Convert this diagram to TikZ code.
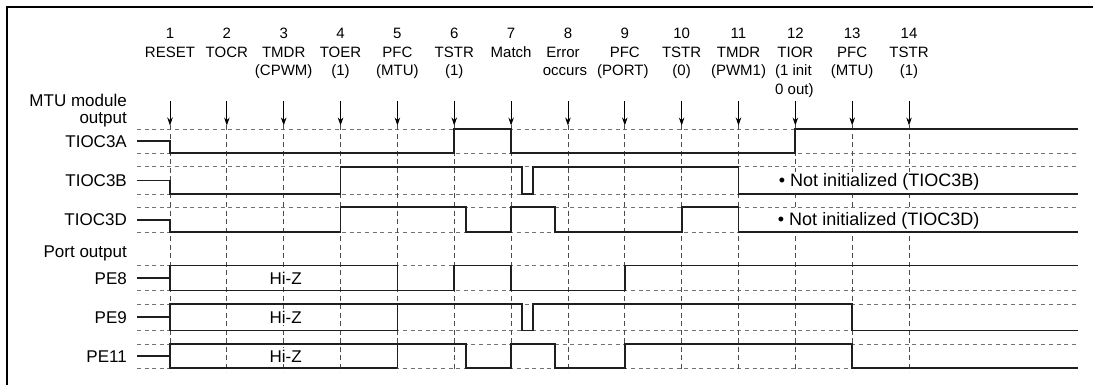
\documentclass[tikz,border=0pt]{standalone}
\usepackage{fontspec}
\setmainfont{Liberation Sans}
\usetikzlibrary{arrows.meta}
\newcommand\evx[1]{(170+56.85*(#1-1))}
\begin{document}
\begin{tikzpicture}[x=1pt,y=-1pt,
  wave/.style={line width=1.8pt, black!88, line join=miter, line cap=butt},
  guide/.style={line width=0.8pt, black!55, dash pattern=on 4pt off 3.6pt},
  vguide/.style={line width=0.8pt, black!70, dash pattern=on 5pt off 3.5pt},
  evarrow/.style={line width=0.8pt, -{Stealth[length=8pt,width=5.5pt]}},
  hdr/.style={font=\fontsize{15}{18}\selectfont, anchor=base, inner sep=0pt},
  lbl/.style={font=\fontsize{17}{20}\selectfont, anchor=base east, inner sep=0pt},
  hiz/.style={font=\fontsize{17}{20}\selectfont, anchor=base, inner sep=1.5pt, fill=white},
  note/.style={font=\fontsize{18}{20}\selectfont, anchor=base east, inner sep=1.5pt, fill=white},
  frame/.style={line width=2pt, black}
]
\useasboundingbox (0,0) rectangle (1093,385);
\fill[white] (0,0) rectangle (1093,385);
\draw[frame] (6.5,385) -- (6.5,7.3) -- (1093,7.3);

% event coordinates
\foreach \i in {1,...,14} {
  \coordinate (e\i) at ({\evx{\i}},101);
  \coordinate (t\i) at ({\evx{\i}},125.5);
  \coordinate (b\i) at ({\evx{\i}},372);
}

% horizontal guides
\foreach \yy in {129.3,153.2,166.8,194.2,207.2,232,265.5,290.5,304,330.5,344,368.2} {
  \draw[guide] (137,\yy) -- (1078,\yy);
}
% vertical guides and arrows
\foreach \i in {1,...,14} {
  \draw[vguide] (t\i) -- (b\i);
  \draw[evarrow] (e\i) -- (t\i);
}

% header texts
\node[hdr] (n1) at ({\evx{1}},38.7) {1};
\node[hdr] (c1a) at ({\evx{1}},57.2) {RESET};
\node[hdr] (n2) at ({\evx{2}},38.7) {2};
\node[hdr] (c2a) at ({\evx{2}},57.2) {TOCR};
\node[hdr] (n3) at ({\evx{3}},38.7) {3};
\node[hdr] (c3a) at ({\evx{3}},57.2) {TMDR};
\node[hdr] (c3b) at ({\evx{3}},75.8) {(CPWM)};
\node[hdr] (n4) at ({\evx{4}},38.7) {4};
\node[hdr] (c4a) at ({\evx{4}},57.2) {TOER};
\node[hdr] (c4b) at ({\evx{4}},75.8) {(1)};
\node[hdr] (n5) at ({\evx{5}},38.7) {5};
\node[hdr] (c5a) at ({\evx{5}},57.2) {PFC};
\node[hdr] (c5b) at ({\evx{5}},75.8) {(MTU)};
\node[hdr] (n6) at ({\evx{6}},38.7) {6};
\node[hdr] (c6a) at ({\evx{6}},57.2) {TSTR};
\node[hdr] (c6b) at ({\evx{6}},75.8) {(1)};
\node[hdr] (n7) at ({\evx{7}},38.7) {7};
\node[hdr] (c7a) at ({\evx{7}},57.2) {Match};
\node[hdr] (n8) at ({\evx{8}},38.7) {8};
\node[hdr] (c8a) at ({\evx{8}-5},57.2) {Error};
\node[hdr] (c8b) at ({\evx{8}-3},75.8) {occurs};
\node[hdr] (n9) at ({\evx{9}},38.7) {9};
\node[hdr] (c9a) at ({\evx{9}},57.2) {PFC};
\node[hdr] (c9b) at ({\evx{9}-2},75.8) {(PORT)};
\node[hdr] (n10) at ({\evx{10}},38.7) {10};
\node[hdr] (c10a) at ({\evx{10}},57.2) {TSTR};
\node[hdr] (c10b) at ({\evx{10}},75.8) {(0)};
\node[hdr] (n11) at ({\evx{11}},38.7) {11};
\node[hdr] (c11a) at ({\evx{11}},57.2) {TMDR};
\node[hdr] (c11b) at ({\evx{11}},75.8) {(PWM1)};
\node[hdr] (n12) at ({\evx{12}},38.7) {12};
\node[hdr] (c12a) at ({\evx{12}},57.2) {TIOR};
\node[hdr] (c12b) at ({\evx{12}-2},75.8) {(1 init};
\node[hdr] (c12c) at ({\evx{12}-1},94.2) {0 out)};
\node[hdr] (n13) at ({\evx{13}},38.7) {13};
\node[hdr] (c13a) at ({\evx{13}},57.2) {PFC};
\node[hdr] (c13b) at ({\evx{13}},75.8) {(MTU)};
\node[hdr] (n14) at ({\evx{14}},38.7) {14};
\node[hdr] (c14a) at ({\evx{14}},57.2) {TSTR};
\node[hdr] (c14b) at ({\evx{14}},75.8) {(1)};

% left labels
\node[lbl] (mtu1) at (127,106.5) {MTU module};
\node[lbl] (mtu2) at (127,123.5) {output};
\node[lbl] (l3a) at (127,147.4) {TIOC3A};
\node[lbl] (l3b) at (127,186.6) {TIOC3B};
\node[lbl] (l3d) at (127,225.7) {TIOC3D};
\node[lbl] (port) at (127,257.7) {Port output};
\node[lbl] (l8) at (127,284.1) {PE8};
\node[lbl] (l9) at (127,323.3) {PE9};
\node[lbl] (l11) at (127,362.1) {PE11};

% TIOC3A
\draw[wave] (137,141.3) -| ({\evx{1}},153.2) -| ({\evx{6}},129.3) -| ({\evx{7}},153.2)
  -| ({\evx{12}},129.3) -- (1078,129.3);
% TIOC3B
\draw[wave] (137,180.5) -| ({\evx{1}},194.2) -| ({\evx{4}},166.8) -| ({\evx{7}+10.6},194.2)
  -| ({\evx{7}+21.6},166.8) -| ({\evx{11}},194.2) -- (1078,194.2);
% TIOC3D
\draw[wave] (137,219.6) -| ({\evx{1}},232) -| ({\evx{4}},207.2) -| ({\evx{6}+11.6},232)
  -| ({\evx{7}},207.2) -| ({\evx{8}-13.3},232) -| ({\evx{10}},207.2) -| ({\evx{11}},232) -- (1078,232);
% PE8
\draw[wave] (137,278) -- ({\evx{1}},278);
\draw[wave] ({\evx{5}},290.5) -- ({\evx{1}},290.5) -- ({\evx{1}},265.5) -- ({\evx{5}},265.5)
  -- ({\evx{5}},290.5) -| ({\evx{6}},265.5) -| ({\evx{7}},290.5) -| ({\evx{9}},265.5) -- (1078,265.5);
% PE9
\draw[wave] (137,317.2) -- ({\evx{1}},317.2);
\draw[wave] ({\evx{5}},330.5) -- ({\evx{1}},330.5) -- ({\evx{1}},304) -| ({\evx{7}+10.6},330.5)
  -| ({\evx{7}+21.6},304) -| ({\evx{13}},330.5) -- (1078,330.5);
\draw[wave] ({\evx{5}},304) -- ({\evx{5}},330.5);
% PE11
\draw[wave] (137,356) -- ({\evx{1}},356);
\draw[wave] ({\evx{5}},368.2) -- ({\evx{1}},368.2) -- ({\evx{1}},344) -| ({\evx{6}+11.6},368.2)
  -| ({\evx{7}},344) -| ({\evx{8}-13.3},368.2) -| ({\evx{9}},344) -| ({\evx{13}},368.2) -- (1078,368.2);
\draw[wave] ({\evx{5}},344) -- ({\evx{5}},368.2);

% Hi-Z
\node[hiz] (hz8) at ({\evx{3}+2},284.2) {Hi-Z};
\node[hiz] (hz9) at ({\evx{3}+2},323.4) {Hi-Z};
\node[hiz] (hz11) at ({\evx{3}+2},362.2) {Hi-Z};

% notes
\node[note] (nb) at (981,186.8) {• Not initialized (TIOC3B)};
\node[note] (nd) at (981,225.9) {• Not initialized (TIOC3D)};
\end{tikzpicture}
\end{document}
